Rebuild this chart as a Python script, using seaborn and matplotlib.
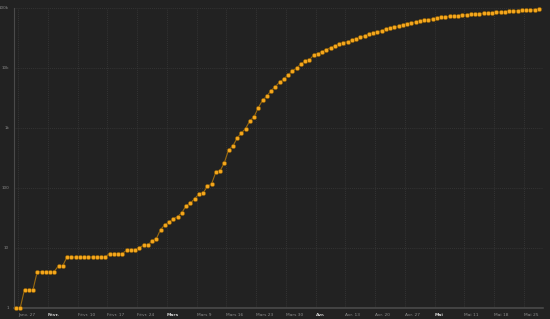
import matplotlib
matplotlib.use("Agg")
import matplotlib.pyplot as plt
import seaborn as sns
import pandas as pd

# ---- data (cumulative cases, daily, log scale) ----
start_date = "2020-01-26 12:00"
cases = [
    1, 1, 2, 2, 2, 4, 4, 4, 4, 4,
    5, 5, 7, 7, 7, 7, 7, 7, 7, 7,
    7, 7, 8, 8, 8, 8, 9, 9, 9, 10,
    11, 11, 13, 14, 20, 24, 27, 30, 33, 38,
    50, 55, 65, 78, 81, 105, 115, 180, 190, 258,
    425, 490, 666, 816, 962, 1294, 1508, 2154, 2862, 3338,
    4138, 4823, 5712, 6480, 7550, 8810, 9770, 11530, 12790, 13430,
    16100, 17200, 18480, 19950, 21550, 23000, 24550, 25800, 27100, 28600,
    29750, 32100, 34150, 36050, 37400, 39350, 41400, 43650, 45400, 47650,
    49550, 51500, 53500, 55600, 57800, 59300, 61650, 63100, 64850, 66550,
    69200, 70000, 71900, 73600, 74000, 75500, 76400, 77600, 78600, 79400,
    80700, 81600, 82600, 83800, 84800, 85800, 87000, 88100, 89200, 90500,
    91600, 92400, 92700, 94000,
]
tick_dates = ["2020-01-27", "2020-02-03", "2020-02-10", "2020-02-17", "2020-02-24",
              "2020-03-02", "2020-03-09", "2020-03-16", "2020-03-23", "2020-03-30",
              "2020-04-06", "2020-04-13", "2020-04-20", "2020-04-27", "2020-05-04",
              "2020-05-11", "2020-05-18", "2020-05-25"]
tick_labels = ["Janv. 27", "Févr.", "Févr. 10", "Févr. 17", "Févr. 24", "Mars",
               "Mars 9", "Mars 16", "Mars 23", "Mars 30", "Avr.", "Avr. 13",
               "Avr. 20", "Avr. 27", "Mai", "Mai 11", "Mai 18", "Mai 25"]
month_starts = {"Févr.", "Mars", "Avr.", "Mai"}
y_ticks = [1, 10, 100, 1000, 10000, 100000]
y_labels = ["1", "10", "100", "1k", "10k", "100k"]

df = pd.DataFrame({
    "date": pd.date_range(start_date, periods=len(cases), freq="D"),
    "cases": cases,
})

BG = "#222222"
GRID = "#3a3a3a"
AXIS = "#4a4a4a"
TXT = "#8a8a8a"

sns.set_style("dark")
plt.rcParams["font.family"] = ["DejaVu Sans"]

fig = plt.figure(figsize=(5.5, 3.19), dpi=100, facecolor=BG)
ax = fig.add_axes([14 / 550, 1 - 307.7 / 319, (543 - 14) / 550, 300 / 319])
ax.set_facecolor(BG)

sns.lineplot(data=df, x="date", y="cases", ax=ax, color="#9a6a10", linewidth=0.8,
             marker="o", markersize=3.1, markerfacecolor="#f5a71c",
             markeredgecolor="#7a5208", markeredgewidth=0.4, clip_on=False, zorder=3)

ax.set_yscale("log")
ax.set_ylim(1, 100000)
x0 = pd.Timestamp(start_date) - pd.Timedelta(hours=11.3)
x1 = pd.Timestamp(start_date) + pd.Timedelta(days=124.0)
ax.set_xlim(x0, x1)

ax.set_yticks(y_ticks)
ax.set_yticklabels(y_labels)
ax.yaxis.set_minor_locator(matplotlib.ticker.NullLocator())
ax.set_xticks(pd.to_datetime(tick_dates))
ax.set_xticklabels(tick_labels)

for lbl in ax.get_xticklabels():
    lbl.set_horizontalalignment("left")
    lbl.set_fontsize(3.2)
    if lbl.get_text() in month_starts:
        lbl.set_color("#cfcfcf")
        lbl.set_fontweight("bold")
    else:
        lbl.set_color(TXT)
for lbl in ax.get_yticklabels():
    lbl.set_fontsize(3.0)
    lbl.set_color(TXT)

ax.tick_params(axis="x", length=2, width=0.5, color=AXIS, pad=1.5)
ax.tick_params(axis="y", length=0, pad=3.5)

ax.grid(True, which="major", axis="both", color=GRID, linestyle=(0, (1, 1.5)), linewidth=0.6)
ax.set_axisbelow(True)

for side in ["top", "right"]:
    ax.spines[side].set_visible(False)
ax.spines["left"].set_color(AXIS)
ax.spines["left"].set_linewidth(0.8)
ax.spines["bottom"].set_color(AXIS)
ax.spines["bottom"].set_linewidth(1.2)
ax.set_xlabel("")
ax.set_ylabel("")

fig.savefig("out.png", dpi=100, facecolor=BG)
